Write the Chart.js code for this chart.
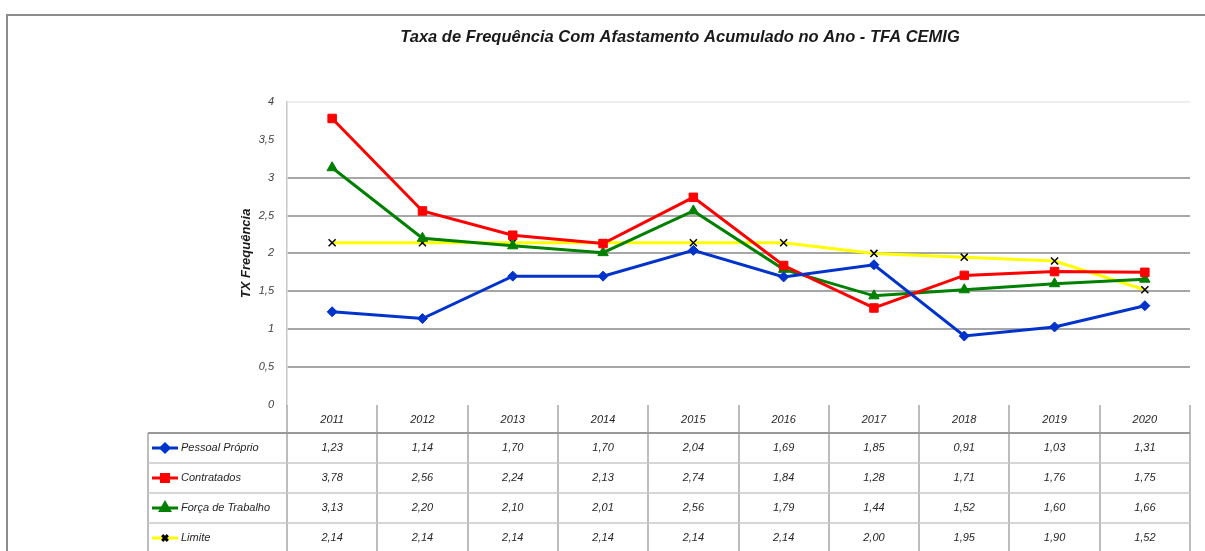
<!DOCTYPE html>
<html lang="pt-BR">
<head>
<meta charset="utf-8">
<title>TFA CEMIG</title>
<script src="https://cdn.jsdelivr.net/npm/chart.js@4.4.1/dist/chart.umd.min.js"></script>
<style>
  html, body { margin: 0; padding: 0; background: #fff; overflow: hidden; }
  canvas { display: block; }
</style>
</head>
<body>
<canvas id="grafico" width="1205" height="551"></canvas>
<script>
const anos = ['2011', '2012', '2013', '2014', '2015', '2016', '2017', '2018', '2019', '2020'];
const pessoalProprio = [1.23, 1.14, 1.70, 1.70, 2.04, 1.69, 1.85, 0.91, 1.03, 1.31];
const contratados = [3.78, 2.56, 2.24, 2.13, 2.74, 1.84, 1.28, 1.71, 1.76, 1.75];
const forcaTrabalho = [3.13, 2.20, 2.10, 2.01, 2.56, 1.79, 1.44, 1.52, 1.60, 1.66];
const limite = [2.14, 2.14, 2.14, 2.14, 2.14, 2.14, 2.00, 1.95, 1.90, 1.52];

const fonteTexto = "'Liberation Sans Narrow', 'Liberation Sans', Arial, sans-serif";

// Formata número com vírgula decimal
const formatar = (v, casas) => (casas === undefined ? String(v) : v.toFixed(casas)).replace('.', ',');

// Moldura do gráfico (estilo Excel)
const molduraPlugin = {
    id: 'moldura',
    beforeDraw(chart) {
        const { ctx } = chart;
        ctx.save();
        ctx.fillStyle = '#ffffff';
        ctx.fillRect(0, 0, chart.width, chart.height);
        ctx.strokeStyle = '#8c8c8c';
        ctx.lineWidth = 2;
        ctx.strokeRect(7, 15, chart.width + 20, chart.height + 20);
        ctx.restore();
    }
};

// Tabela de dados abaixo do eixo X
const tabelaPlugin = {
    id: 'tabela',
    afterDraw(chart) {
        const { ctx, chartArea } = chart;
        const x = chart.scales.x;
        const h = chart.height;
        const passo = x.getPixelForValue(1) - x.getPixelForValue(0);
        const topo = chartArea.bottom;
        const linhaCab = topo + 28;
        const altLinha = 30;
        const esq = 148;

        ctx.save();
        // linhas verticais entre as categorias
        ctx.strokeStyle = '#a6a6a6';
        ctx.lineWidth = 1.5;
        for (let i = 0; i <= anos.length; i++) {
            const xv = Math.round(x.getPixelForValue(i) - passo / 2);
            ctx.beginPath();
            ctx.moveTo(xv, topo);
            ctx.lineTo(xv, h);
            ctx.stroke();
        }
        ctx.beginPath();
        ctx.moveTo(esq, linhaCab);
        ctx.lineTo(esq, h);
        ctx.stroke();

        // linha do cabeçalho
        ctx.strokeStyle = '#999999';
        ctx.lineWidth = 2;
        ctx.beginPath();
        ctx.moveTo(esq, linhaCab);
        ctx.lineTo(x.right, linhaCab);
        ctx.stroke();

        // separadores das linhas
        ctx.strokeStyle = '#c8c8c8';
        ctx.lineWidth = 1.5;
        for (let k = 1; k < chart.data.datasets.length; k++) {
            const yv = linhaCab + k * altLinha;
            ctx.beginPath();
            ctx.moveTo(esq, yv);
            ctx.lineTo(x.right, yv);
            ctx.stroke();
        }

        // conteúdo das linhas
        ctx.font = 'italic 11px ' + fonteTexto;
        ctx.textBaseline = 'middle';
        chart.data.datasets.forEach((ds, k) => {
            const yc = linhaCab + k * altLinha + altLinha / 2;
            // chave da legenda
            ctx.strokeStyle = ds.borderColor;
            ctx.lineWidth = 3;
            ctx.beginPath();
            ctx.moveTo(152, yc);
            ctx.lineTo(178, yc);
            ctx.stroke();
            ctx.fillStyle = ds.pointBackgroundColor;
            ctx.strokeStyle = ds.pointBorderColor;
            Chart.helpers.drawPoint(ctx, {
                pointStyle: ds.pointStyle,
                radius: ds.pointRadius - 1,
                rotation: 0,
                borderWidth: ds.pointBorderWidth
            }, 165, yc);

            ctx.fillStyle = '#262626';
            ctx.textAlign = 'left';
            ctx.fillText(ds.label, 181, yc);

            ctx.textAlign = 'center';
            ds.data.forEach((v, i) => {
                ctx.fillText(formatar(v, 2), x.getPixelForValue(i), yc);
            });
        });
        ctx.restore();
    }
};

const ctx = document.getElementById('grafico').getContext('2d');

new Chart(ctx, {
    type: 'line',
    data: {
        labels: anos,
        datasets: [
            {
                label: 'Pessoal Próprio',
                data: pessoalProprio,
                borderColor: '#0033CC',
                backgroundColor: '#0033CC',
                pointBackgroundColor: '#0033CC',
                pointBorderColor: '#0033CC',
                pointStyle: 'rectRot',
                pointRadius: 5,
                pointBorderWidth: 1,
                borderWidth: 3
            },
            {
                label: 'Contratados',
                data: contratados,
                borderColor: '#FF0000',
                backgroundColor: '#FF0000',
                pointBackgroundColor: '#FF0000',
                pointBorderColor: '#FF0000',
                pointStyle: 'rect',
                pointRadius: 6,
                pointBorderWidth: 1,
                borderWidth: 3
            },
            {
                label: 'Força de Trabalho',
                data: forcaTrabalho,
                borderColor: '#008000',
                backgroundColor: '#008000',
                pointBackgroundColor: '#008000',
                pointBorderColor: '#008000',
                pointStyle: 'triangle',
                pointRadius: 6,
                pointBorderWidth: 1,
                borderWidth: 3
            },
            {
                label: 'Limite',
                data: limite,
                borderColor: '#FFFF00',
                backgroundColor: '#FFFF00',
                pointBackgroundColor: '#000000',
                pointBorderColor: '#000000',
                pointStyle: 'crossRot',
                pointRadius: 5,
                pointBorderWidth: 1.5,
                borderWidth: 3
            }
        ]
    },
    options: {
        responsive: false,
        animation: false,
        layout: {
            padding: { top: 0, left: 170, right: 15, bottom: 118 }
        },
        plugins: {
            legend: { display: false },
            tooltip: { enabled: false },
            title: {
                display: true,
                text: 'Taxa de Frequência Com Afastamento Acumulado no Ano - TFA CEMIG',
                color: '#1a1a1a',
                font: { family: fonteTexto, size: 16.5, style: 'italic', weight: 'bold' },
                padding: { top: 28, bottom: 54 }
            }
        },
        scales: {
            x: {
                offset: true,
                grid: { display: false, drawTicks: false },
                border: { display: false },
                ticks: {
                    color: '#262626',
                    padding: 8,
                    font: { family: fonteTexto, size: 11, style: 'italic' }
                },
                afterFit: (scale) => { scale.height = 28; }
            },
            y: {
                min: 0,
                max: 4,
                ticks: {
                    stepSize: 0.5,
                    padding: 13,
                    color: '#404040',
                    font: { family: fonteTexto, size: 11, style: 'italic' },
                    callback: (v) => formatar(v)
                },
                grid: {
                    drawTicks: false,
                    lineWidth: 2,
                    color: (c) => {
                        const v = c.tick ? c.tick.value : null;
                        if (v === 4) return '#eeeeee';
                        if (v === 0 || v === 3.5) return 'rgba(0,0,0,0)';
                        return '#a6a6a6';
                    }
                },
                border: { color: '#c8c8c8', width: 1.5 },
                title: {
                    display: true,
                    text: 'TX Frequência',
                    color: '#1a1a1a',
                    font: { family: fonteTexto, size: 13, style: 'italic', weight: 'bold' },
                    padding: { top: 69, bottom: 0 }
                },
                afterFit: (scale) => { scale.width = 117; }
            }
        }
    },
    plugins: [molduraPlugin, tabelaPlugin]
});
</script>
</body>
</html>
